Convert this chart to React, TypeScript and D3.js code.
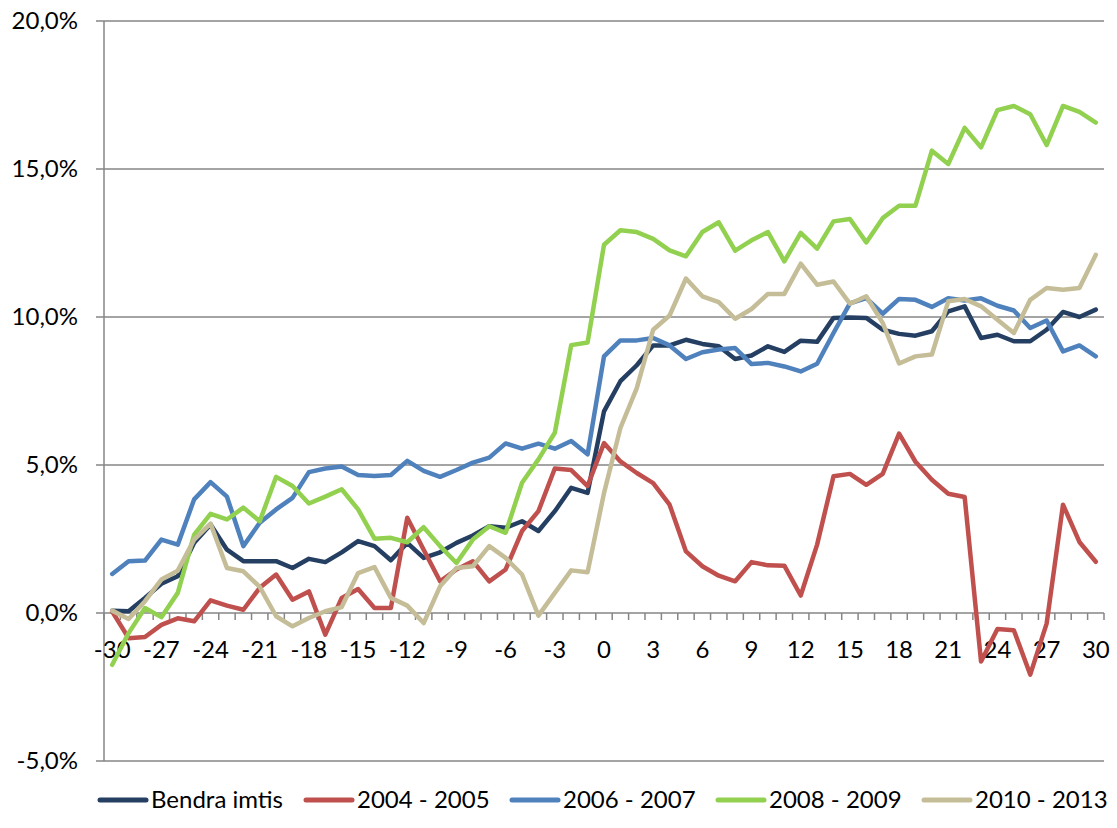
import React, { useEffect, useRef } from 'react';
import * as d3 from 'd3';

const months = d3.range(-30, 31);

const bendra = [0.08, 0.06, 0.51, 0.99, 1.24, 2.37, 2.99, 2.14, 1.75, 1.75, 1.75, 1.52, 1.83, 1.72, 2.05, 2.43, 2.26, 1.78, 2.37, 1.86, 2.05, 2.37, 2.62, 2.93, 2.88, 3.10, 2.77, 3.44, 4.23, 4.06, 6.81, 7.83, 8.37, 9.04, 9.04, 9.23, 9.09, 9.01, 8.58, 8.70, 9.01, 8.82, 9.20, 9.16, 9.97, 9.98, 9.97, 9.57, 9.43, 9.37, 9.52, 10.19, 10.36, 9.29, 9.40, 9.18, 9.18, 9.57, 10.17, 10.00, 10.25];
const y2004 = [0.05, -0.85, -0.81, -0.40, -0.18, -0.28, 0.43, 0.25, 0.11, 0.85, 1.30, 0.45, 0.73, -0.73, 0.51, 0.81, 0.17, 0.17, 3.22, 2.14, 1.07, 1.47, 1.75, 1.07, 1.47, 2.77, 3.44, 4.88, 4.83, 4.29, 5.74, 5.12, 4.73, 4.39, 3.66, 2.08, 1.58, 1.26, 1.07, 1.72, 1.61, 1.60, 0.59, 2.31, 4.62, 4.70, 4.33, 4.70, 6.06, 5.11, 4.50, 4.03, 3.92, -1.64, -0.54, -0.58, -2.08, -0.36, 3.66, 2.40, 1.73];
const y2006 = [1.32, 1.75, 1.77, 2.48, 2.31, 3.84, 4.42, 3.93, 2.26, 3.05, 3.50, 3.89, 4.76, 4.88, 4.95, 4.66, 4.63, 4.66, 5.14, 4.80, 4.60, 4.83, 5.08, 5.25, 5.73, 5.55, 5.72, 5.55, 5.81, 5.36, 8.67, 9.21, 9.21, 9.29, 9.04, 8.58, 8.81, 8.90, 8.95, 8.41, 8.45, 8.33, 8.16, 8.42, 9.46, 10.46, 10.64, 10.11, 10.61, 10.58, 10.34, 10.63, 10.56, 10.63, 10.38, 10.22, 9.63, 9.88, 8.84, 9.04, 8.67];
const y2008 = [-1.75, -0.68, 0.17, -0.14, 0.68, 2.65, 3.35, 3.16, 3.56, 3.10, 4.60, 4.29, 3.70, 3.93, 4.18, 3.50, 2.51, 2.54, 2.39, 2.90, 2.26, 1.69, 2.48, 2.93, 2.71, 4.40, 5.19, 6.09, 9.05, 9.14, 12.44, 12.93, 12.87, 12.64, 12.25, 12.05, 12.87, 13.20, 12.24, 12.59, 12.87, 11.88, 12.84, 12.31, 13.23, 13.31, 12.52, 13.34, 13.76, 13.76, 15.62, 15.17, 16.39, 15.73, 16.99, 17.13, 16.85, 15.81, 17.13, 16.93, 16.57];
const y2010 = [0.08, -0.20, 0.40, 1.13, 1.43, 2.48, 3.02, 1.52, 1.41, 0.88, -0.11, -0.45, -0.17, 0.06, 0.20, 1.35, 1.55, 0.51, 0.25, -0.34, 0.90, 1.52, 1.58, 2.26, 1.86, 1.30, -0.09, 0.68, 1.44, 1.38, 4.05, 6.25, 7.60, 9.57, 10.05, 11.30, 10.70, 10.50, 9.94, 10.27, 10.78, 10.78, 11.80, 11.09, 11.20, 10.45, 10.70, 9.80, 8.43, 8.67, 8.73, 10.53, 10.61, 10.36, 9.91, 9.46, 10.58, 10.98, 10.92, 10.98, 12.10];

const seriesNames = ['Bendra imtis', '2004 - 2005', '2006 - 2007', '2008 - 2009', '2010 - 2013'];
const seriesValues = [bendra, y2004, y2006, y2008, y2010];
const seriesColors = ['#243F62', '#C0504D', '#4F81BD', '#92D050', '#C4BD97'];
const yTicks = [-5, 0, 5, 10, 15, 20];
const xLabelEvery = 3;

const W = 1117;
const H = 828;
const FONT = 'Lato, "Open Sans", sans-serif';

export default function App() {
    const svgRef = useRef(null);

    useEffect(() => {
        const svg = d3.select(svgRef.current);
        svg.selectAll('*').remove();

        const left = 104, right = 1104, top = 21, bottom = 761;
        const axisColor = '#868686';

        const x = d3.scaleBand()
            .domain(months.map(String))
            .range([left, right]);
        const cx = m => x(String(m)) + x.bandwidth() / 2;

        const y = d3.scaleLinear().domain([-5, 20]).range([bottom, top]);

        // gridlines + y labels
        svg.append('g').selectAll('line')
            .data(yTicks.filter(t => t !== 0))
            .enter().append('line')
            .attr('x1', left - 8).attr('x2', right)
            .attr('y1', d => y(d)).attr('y2', d => y(d))
            .attr('stroke', axisColor).attr('stroke-width', 1.5);

        svg.append('g').selectAll('text')
            .data(yTicks)
            .enter().append('text')
            .attr('x', 78)
            .attr('y', d => y(d) + 8)
            .attr('text-anchor', 'end')
            .style('font-family', FONT)
            .style('font-size', '24px')
            .attr('fill', '#000')
            .text(d => d.toFixed(1).replace('.', ',') + '%');

        // y axis line
        svg.append('line')
            .attr('x1', left).attr('x2', left)
            .attr('y1', top).attr('y2', bottom)
            .attr('stroke', axisColor).attr('stroke-width', 1.5);

        // x axis at 0
        const y0 = y(0);
        svg.append('line')
            .attr('x1', left - 8).attr('x2', right)
            .attr('y1', y0).attr('y2', y0)
            .attr('stroke', axisColor).attr('stroke-width', 1.5);

        const tickXs = months.map(m => x(String(m))).concat([right]);
        svg.append('g').selectAll('line')
            .data(tickXs)
            .enter().append('line')
            .attr('x1', d => d).attr('x2', d => d)
            .attr('y1', y0).attr('y2', y0 + 7)
            .attr('stroke', axisColor).attr('stroke-width', 1.5);

        svg.append('g').selectAll('text')
            .data(months.filter(m => m % xLabelEvery === 0))
            .enter().append('text')
            .attr('x', d => cx(d))
            .attr('y', y0 + 45)
            .attr('text-anchor', 'middle')
            .style('font-family', FONT)
            .style('font-size', '24px')
            .attr('fill', '#000')
            .text(d => String(d));

        // series lines
        const line = d3.line()
            .x((d, i) => cx(months[i]))
            .y(d => y(d));

        svg.append('g').selectAll('path')
            .data(seriesValues)
            .enter().append('path')
            .attr('d', d => line(d))
            .attr('fill', 'none')
            .attr('stroke', (d, i) => seriesColors[i])
            .attr('stroke-width', 4.5)
            .attr('stroke-linejoin', 'round')
            .attr('stroke-linecap', 'round');

        // legend
        const legendY = 800;
        const itemW = 206;
        const legend = svg.append('g');
        seriesNames.forEach((name, i) => {
            const lx = 100 + i * itemW;
            legend.append('line')
                .attr('x1', lx).attr('x2', lx + 46)
                .attr('y1', legendY).attr('y2', legendY)
                .attr('stroke', seriesColors[i])
                .attr('stroke-width', 5)
                .attr('stroke-linecap', 'round');
            legend.append('text')
                .attr('x', lx + 51)
                .attr('y', legendY + 8)
                .style('font-family', FONT)
                .style('font-size', '24px')
                .attr('fill', '#000')
                .text(name);
        });
    }, []);

    return (
        <div style={{ position: 'absolute', left: 0, top: 0 }}>
            <svg ref={svgRef} width={W} height={H} style={{ display: 'block', background: '#fff' }} />
        </div>
    );
}
